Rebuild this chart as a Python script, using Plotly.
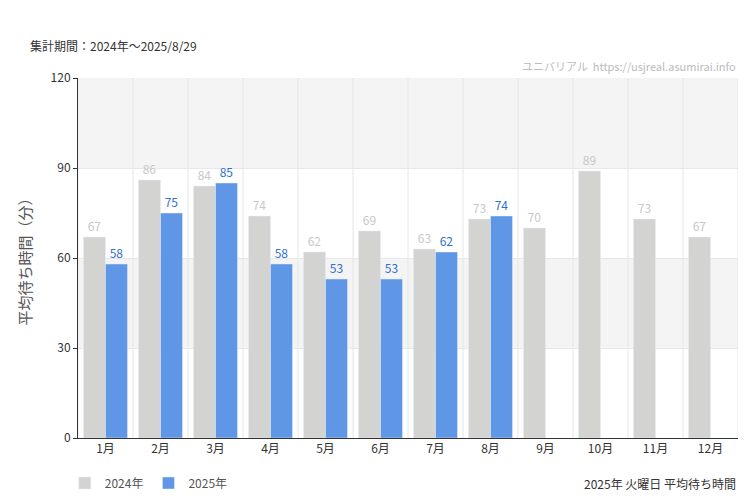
import plotly.graph_objects as go

months = ['1月', '2月', '3月', '4月', '5月', '6月', '7月', '8月', '9月', '10月', '11月', '12月']
y2024 = [67, 86, 84, 74, 62, 69, 63, 73, 70, 89, 73, 67]
y2025 = [58, 75, 85, 58, 53, 53, 62, 74, None, None, None, None]
yticks = [0, 30, 60, 90, 120]

fnt = 'Noto Sans CJK JP'
fig = go.Figure()
fig.add_trace(go.Bar(x=months, y=y2024, name='2024年', marker_color='#d3d3d1',
                     text=y2024, textposition='outside', cliponaxis=False,
                     textfont=dict(color='#c8c8c8', size=12)))
fig.add_trace(go.Bar(x=months, y=y2025, name='2025年', marker_color='#5f97e6',
                     text=y2025, textposition='outside', cliponaxis=False,
                     textfont=dict(color='#2f6fd0', size=12)))

shapes = []
for lo, hi in [(30, 60), (90, 120)]:
    shapes.append(dict(type='rect', xref='paper', yref='y', x0=0, x1=1, y0=lo, y1=hi,
                       fillcolor='#f4f4f4', line_width=0, layer='below'))
for i in range(13):
    shapes.append(dict(type='line', xref='x', yref='paper', x0=i - 0.5, x1=i - 0.5, y0=0, y1=1,
                       line=dict(color='#e6e6e6', width=1), layer='below'))

fig.update_layout(
    width=750, height=500, plot_bgcolor='white', paper_bgcolor='white',
    font=dict(family=fnt, size=12, color='#333'),
    margin=dict(l=70, r=20, t=70, b=70, autoexpand=False),
    barmode='group', bargap=0.2, bargroupgap=0,
    shapes=shapes,
    xaxis=dict(showgrid=False, showline=True, linecolor='#333', ticks='', range=[-0.5, 11.5]),
    yaxis=dict(range=[0, 120], tickvals=yticks, showgrid=True, gridcolor='#e8e8e8',
               showline=True, linecolor='#333', ticks='outside', ticklen=4, tickcolor='#333',
               zeroline=False, title=dict(text='平均待ち時間（分）', font=dict(size=15, color='#555'))),
    legend=dict(orientation='h', x=-0.02, y=-0.125, xanchor='left', yanchor='middle',
                font=dict(size=12, color='#555')),
    annotations=[
        dict(text='集計期間：2024年～2025/8/29', xref='paper', yref='paper', x=-0.076, y=1.09,
             xanchor='left', yanchor='middle', showarrow=False, font=dict(size=12, color='#333')),
        dict(text='ユニバリアル  https://usjreal.asumirai.info', xref='paper', yref='paper', x=1, y=1.005,
             xanchor='right', yanchor='bottom', showarrow=False, font=dict(size=11, color='#bbb')),
        dict(text='2025年 火曜日 平均待ち時間', xref='paper', yref='paper', x=1, y=-0.125,
             xanchor='right', yanchor='middle', showarrow=False, font=dict(size=12, color='#333')),
    ],
)
fig.write_html('out.html')
